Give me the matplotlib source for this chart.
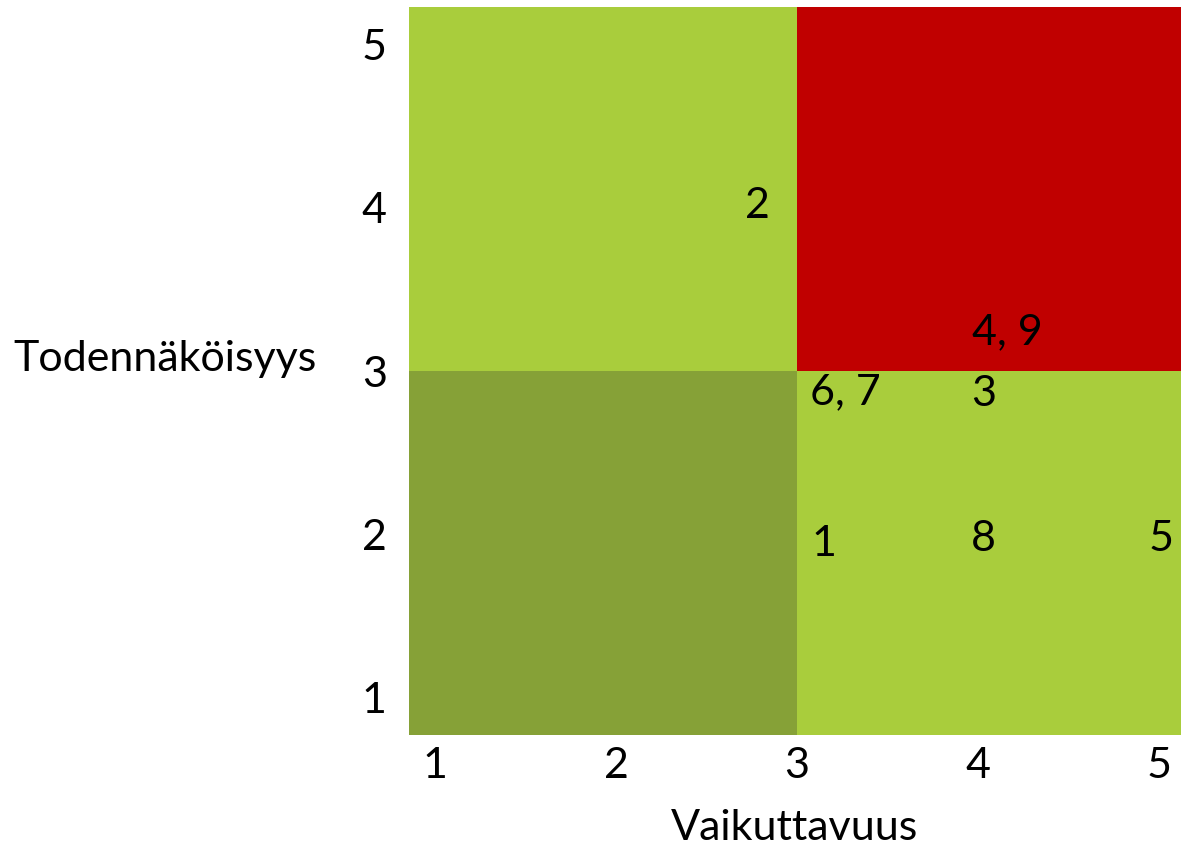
import matplotlib.pyplot as plt
from matplotlib.patches import Rectangle

plt.rcParams['font.family'] = ['Lato', 'DejaVu Sans']

# axis scale 1..5, matrix split at 3
ticks = [1, 2, 3, 4, 5]
split = 3

# quadrant colours (bottom-left, bottom-right, top-left, top-right)
col_low = '#86A137'
col_mid = '#A9CD3C'
col_high = '#C00000'

# risk numbers with (impact, probability)
risk_labels = ['2', '4, 9', '6, 7', '3', '1', '8', '5']
impact = [2.78, 4.16, 3.27, 4.03, 3.15, 4.03, 5.01]
probability = [4.01, 3.24, 2.87, 2.86, 1.94, 1.97, 1.97]

fig = plt.figure(figsize=(11.81, 8.52), dpi=100)
ax = fig.add_axes([409 / 1181, 117 / 852, 772 / 1181, 728 / 852])

x0, x1 = 0.856, 5.122
y0, y1 = 0.77, 5.23
ax.set_xlim(x0, x1)
ax.set_ylim(y0, y1)

ax.add_patch(Rectangle((x0, y0), split - x0, split - y0, color=col_low, lw=0))
ax.add_patch(Rectangle((split, y0), x1 - split, split - y0, color=col_mid, lw=0))
ax.add_patch(Rectangle((x0, split), split - x0, y1 - split, color=col_mid, lw=0))
ax.add_patch(Rectangle((split, split), x1 - split, y1 - split, color=col_high, lw=0))

for lab, xi, yi in zip(risk_labels, impact, probability):
    ax.text(xi, yi, lab, ha='center', va='center', fontsize=31, color='black')

ax.set_xticks(ticks)
ax.set_yticks(ticks)
ax.tick_params(length=0, labelsize=31)
ax.tick_params(axis='x', pad=9)
ax.tick_params(axis='y', pad=16)
for s in ax.spines.values():
    s.set_visible(False)

ax.set_xlabel('Vaikuttavuus', fontsize=31, va='baseline', ha='center')
ax.xaxis.set_label_coords(0.499, -0.144)
ax.set_ylabel('Todennäköisyys', fontsize=31, rotation=0, va='baseline', ha='center')
ax.yaxis.set_label_coords(-0.316, 0.5)

fig.savefig('out.png', dpi=100)
